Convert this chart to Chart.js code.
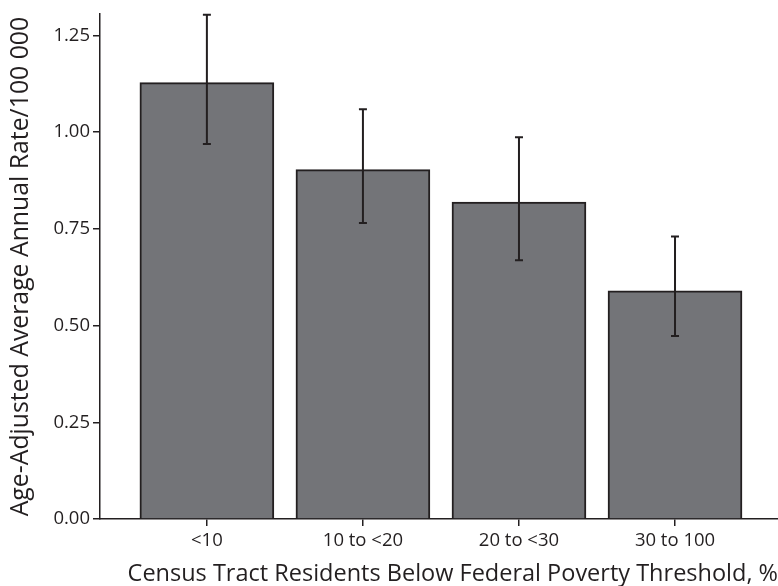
<!DOCTYPE html>
<html>
<head>
<meta charset="utf-8">
<script src="https://cdn.jsdelivr.net/npm/chart.js@4"></script>
<style>
  html, body { margin: 0; padding: 0; background: #fff; }
  #wrap { width: 778px; height: 586px; }
</style>
</head>
<body>
<div id="wrap"><canvas id="grafico" width="778" height="586"></canvas></div>
<script>
const categorias = ['<10', '10 to <20', '20 to <30', '30 to 100'];
const tasas = [1.128, 0.903, 0.819, 0.590];
const limiteInferior = [0.969, 0.765, 0.669, 0.473];
const limiteSuperior = [1.303, 1.059, 0.987, 0.730];
const ticksY = [0, 0.25, 0.5, 0.75, 1.0, 1.25];

const tinta = '#231f20';
const fuente = '"Open Sans", Lato, sans-serif';

// dibuja las barras de error con las escalas del grafico
const barrasError = {
    id: 'barrasError',
    afterDatasetsDraw(chart) {
        const ctx = chart.ctx;
        const x = chart.scales.x;
        const y = chart.scales.y;
        ctx.save();
        ctx.strokeStyle = tinta;
        ctx.lineWidth = 2;
        categorias.forEach((c, i) => {
            const px = x.getPixelForValue(i);
            const top = y.getPixelForValue(limiteSuperior[i]);
            const bot = y.getPixelForValue(limiteInferior[i]);
            ctx.beginPath();
            ctx.moveTo(px, top);
            ctx.lineTo(px, bot);
            ctx.moveTo(px - 4, top);
            ctx.lineTo(px + 4, top);
            ctx.moveTo(px - 4, bot);
            ctx.lineTo(px + 4, bot);
            ctx.stroke();
        });
        ctx.restore();
    }
};

new Chart(document.getElementById('grafico').getContext('2d'), {
    type: 'bar',
    data: {
        datasets: [{
            data: tasas.map((v, i) => ({ x: i, y: v })),
            backgroundColor: '#737478',
            borderColor: tinta,
            borderWidth: 2,
            borderSkipped: 'bottom',
            barThickness: 134
        }]
    },
    options: {
        responsive: false,
        animation: false,
        layout: { padding: { top: 12, right: 0, left: 0, bottom: 0 } },
        plugins: {
            legend: { display: false },
            tooltip: { enabled: false }
        },
        scales: {
            x: {
                type: 'linear',
                offset: false,
                min: -0.685,
                max: 3.66,
                afterBuildTicks: s => { s.ticks = categorias.map((c, i) => ({ value: i })); },
                afterFit: s => { s.height = 67; },
                grid: { offset: false, drawOnChartArea: false, drawTicks: true, tickLength: 7, color: tinta, lineWidth: 1.5 },
                border: { color: tinta, width: 1.5 },
                ticks: {
                    callback: v => categorias[v],
                    color: tinta,
                    font: { family: fuente, size: 18.5 },
                    padding: 4,
                    maxRotation: 0,
                    autoSkip: false
                },
                title: {
                    display: true,
                    text: 'Census Tract Residents Below Federal Poverty Threshold, %',
                    color: tinta,
                    font: { family: fuente, size: 23.5 },
                    padding: { top: 0, bottom: -2 },
                    align: 'end'
                }
            },
            y: {
                min: 0,
                max: 1.305,
                afterBuildTicks: s => { s.ticks = ticksY.map(v => ({ value: v })); },
                afterFit: s => { s.width = 100; },
                grid: { drawOnChartArea: false, drawTicks: true, tickLength: 7, color: tinta, lineWidth: 1.5 },
                border: { color: tinta, width: 1.5 },
                ticks: {
                    callback: v => v.toFixed(2),
                    color: tinta,
                    font: { family: fuente, size: 18.5 },
                    padding: 3
                },
                title: {
                    display: true,
                    text: 'Age-Adjusted Average Annual Rate/100 000',
                    color: tinta,
                    font: { family: fuente, size: 24.8 },
                    padding: { top: 6, bottom: 4 },
                    align: 'center'
                }
            }
        }
    },
    plugins: [barrasError]
});
</script>
</body>
</html>
